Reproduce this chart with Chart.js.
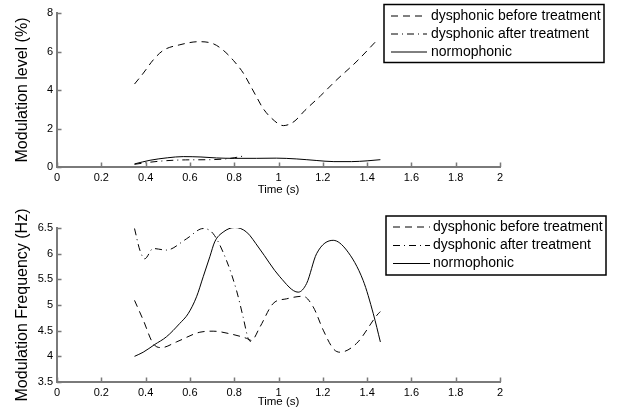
<!DOCTYPE html>
<html>
<head>
<meta charset="utf-8">
<script src="https://cdn.jsdelivr.net/npm/chart.js@4"></script>
<style>
  html, body { margin: 0; padding: 0; background: #fff; }
  .wrap { position: absolute; left: 0; width: 618px; height: 207px; }
  canvas { display: block; }
</style>
</head>
<body>
<div class="wrap" style="top:0"><canvas id="c1" width="618" height="207"></canvas></div>
<div class="wrap" style="top:207px"><canvas id="c2" width="618" height="207"></canvas></div>
<script>
// ---------- DATA ----------
const seriesLabels = ['dysphonic before treatment', 'dysphonic after treatment', 'normophonic'];

const xTicks = [0, 0.2, 0.4, 0.6, 0.8, 1, 1.2, 1.4, 1.6, 1.8, 2];
const levelTicks = [0, 2, 4, 6, 8];
const freqTicks = [3.5, 4, 4.5, 5, 5.5, 6, 6.5];

// Top: modulation level (%)
const levelBeforeT = [0.35, 0.39, 0.435, 0.48, 0.555, 0.64, 0.706, 0.751, 0.796, 0.841, 0.871, 0.90, 0.93, 0.969, 1.022, 1.07, 1.12, 1.19, 1.26, 1.35, 1.45];
const levelBeforeV = [4.31, 4.88, 5.57, 6.06, 6.35, 6.51, 6.40, 6.06, 5.54, 4.88, 4.27, 3.66, 3.05, 2.53, 2.15, 2.36, 2.95, 3.70, 4.50, 5.45, 6.65];
const levelAfterT = [0.35, 0.42, 0.495, 0.58, 0.69, 0.76, 0.80, 0.85];
const levelAfterV = [0.14, 0.25, 0.33, 0.37, 0.38, 0.42, 0.48, 0.59];
const levelNormT = [0.35, 0.42, 0.50, 0.57, 0.65, 0.72, 0.80, 0.90, 0.99, 1.08, 1.17, 1.25, 1.33, 1.40, 1.46];
const levelNormV = [0.16, 0.35, 0.48, 0.54, 0.52, 0.47, 0.45, 0.45, 0.46, 0.42, 0.34, 0.28, 0.28, 0.32, 0.38];

// Bottom: modulation frequency (Hz)
const freqBeforeT = [0.35, 0.39, 0.434, 0.472, 0.539, 0.645, 0.705, 0.78, 0.856, 0.878, 0.916, 0.976, 1.036, 1.111, 1.157, 1.202, 1.247, 1.277, 1.352, 1.45, 1.46];
const freqBeforeV = [5.09, 4.70, 4.25, 4.17, 4.28, 4.47, 4.49, 4.44, 4.35, 4.31, 4.57, 5.03, 5.12, 5.17, 4.96, 4.51, 4.15, 4.08, 4.25, 4.83, 4.87];
const freqAfterT = [0.35, 0.374, 0.396, 0.434, 0.494, 0.585, 0.66, 0.705, 0.765, 0.81, 0.84, 0.863, 0.875];
const freqAfterV = [6.49, 6.07, 5.90, 6.10, 6.07, 6.29, 6.49, 6.39, 5.87, 5.29, 4.77, 4.35, 4.28];
const freqNormT = [0.35, 0.389, 0.441, 0.494, 0.554, 0.592, 0.63, 0.66, 0.69, 0.712, 0.75, 0.803, 0.856, 0.912, 1.006, 1.089, 1.127, 1.172, 1.247, 1.307, 1.382, 1.428, 1.46];
const freqNormV = [4.00, 4.08, 4.23, 4.38, 4.64, 4.83, 5.16, 5.55, 5.94, 6.23, 6.42, 6.51, 6.42, 6.11, 5.55, 5.25, 5.42, 6.00, 6.26, 6.07, 5.48, 4.83, 4.28];

// ---------- HELPERS ----------
const FONT = "'Liberation Sans', Arial, Helvetica, sans-serif";
const AXIS_COLOR = '#7a7a7a';
const dashes = [[7, 5], [7, 4, 1, 4], []];

function pts(ts, vs) { return ts.map((t, i) => ({ x: t, y: vs[i] })); }

function makeDatasets(groups) {
  return groups.map((g, i) => ({
    label: seriesLabels[i],
    data: pts(g[0], g[1]),
    borderColor: '#000',
    borderWidth: 1,
    borderDash: dashes[i],
    pointRadius: 0,
    fill: false,
    cubicInterpolationMode: 'monotone'
  }));
}

// inward tick marks drawn from the library scales
const innerTicks = {
  id: 'innerTicks',
  afterDraw(chart) {
    const ctx = chart.ctx, xs = chart.scales.x, ys = chart.scales.y;
    const a = chart.chartArea;
    ctx.save();
    ctx.strokeStyle = AXIS_COLOR;
    ctx.lineWidth = 1.5;
    ctx.beginPath();
    xs.ticks.forEach(t => {
      const px = Math.round(xs.getPixelForValue(t.value)) + 0.5;
      ctx.moveTo(px, a.bottom);
      ctx.lineTo(px, a.bottom - 4.5);
    });
    ys.ticks.forEach(t => {
      const py = Math.round(ys.getPixelForValue(t.value)) + 0.5;
      ctx.moveTo(a.left, py);
      ctx.lineTo(a.left + 4.5, py);
    });
    ctx.stroke();
    ctx.restore();
  }
};

// boxed legend drawn inside the figure
const boxLegend = {
  id: 'boxLegend',
  afterDraw(chart, args, opts) {
    const ctx = chart.ctx;
    const b = opts.box;
    ctx.save();
    ctx.fillStyle = '#fff';
    ctx.fillRect(b[0], b[1], b[2] - b[0], b[3] - b[1]);
    ctx.strokeStyle = '#000';
    ctx.lineWidth = 1.5;
    ctx.strokeRect(b[0], b[1], b[2] - b[0], b[3] - b[1]);
    ctx.font = '14px ' + FONT;
    ctx.textBaseline = 'middle';
    ctx.fillStyle = '#000';
    chart.data.datasets.forEach((ds, i) => {
      const y = opts.rows[i];
      ctx.beginPath();
      ctx.lineWidth = 1;
      ctx.setLineDash(ds.borderDash);
      ctx.moveTo(opts.lineX[0], y);
      ctx.lineTo(opts.lineX[1], y);
      ctx.stroke();
      ctx.setLineDash([]);
      ctx.fillText(ds.label, opts.textX, y);
    });
    ctx.restore();
  }
};

function makeChart(id, groups, yTicks, yTitle, cfg) {
  return new Chart(document.getElementById(id), {
    type: 'line',
    data: { datasets: makeDatasets(groups) },
    plugins: [innerTicks, boxLegend],
    options: {
      responsive: false,
      animation: false,
      devicePixelRatio: 1,
      layout: { padding: { top: cfg.top, right: 118, left: 0, bottom: 0 } },
      plugins: {
        legend: { display: false },
        tooltip: { enabled: false },
        boxLegend: cfg.legend
      },
      scales: {
        x: {
          type: 'linear',
          min: xTicks[0], max: xTicks[xTicks.length - 1],
          afterBuildTicks: s => { s.ticks = xTicks.map(v => ({ value: v })); },
          afterFit: s => { s.height = cfg.xHeight; },
          grid: { display: true, drawOnChartArea: false, drawTicks: false, color: 'rgba(0,0,0,0)' },
          border: { display: true, color: AXIS_COLOR, width: 2 },
          ticks: { color: '#000', font: { family: FONT, size: 11 }, padding: 4, maxRotation: 0,
                   callback: v => String(v) },
          title: { display: true, text: 'Time (s)', color: '#000',
                   font: { family: FONT, size: 11.5 }, padding: { top: 0, bottom: cfg.xTitlePad } }
        },
        y: {
          type: 'linear',
          min: yTicks[0], max: yTicks[yTicks.length - 1],
          afterBuildTicks: s => { s.ticks = yTicks.map(v => ({ value: v })); },
          afterFit: s => { s.width = 57; },
          grid: { display: true, drawOnChartArea: false, drawTicks: false, color: 'rgba(0,0,0,0)' },
          border: { display: true, color: AXIS_COLOR, width: 2 },
          ticks: { color: '#000', font: { family: FONT, size: 11 }, padding: 4,
                   callback: v => String(v) },
          title: { display: true, text: yTitle, color: '#000',
                   font: { family: FONT, size: 16 }, padding: { top: 13, bottom: 0 } }
        }
      }
    }
  });
}

makeChart('c1',
  [[levelBeforeT, levelBeforeV], [levelAfterT, levelAfterV], [levelNormT, levelNormV]],
  levelTicks, 'Modulation level (%)',
  { top: 13, xHeight: 40, xTitlePad: 10,
    legend: { box: [384, 4.5, 604, 62.5], rows: [16, 34, 52], lineX: [391, 427], textX: 431 } });

makeChart('c2',
  [[freqBeforeT, freqBeforeV], [freqAfterT, freqAfterV], [freqNormT, freqNormV]],
  freqTicks, 'Modulation Frequency (Hz)',
  { top: 21, xHeight: 32, xTitlePad: 5,
    legend: { box: [386, 9, 606, 68], rows: [20, 38.5, 56.5], lineX: [393, 430], textX: 433 } });
</script>
</body>
</html>
